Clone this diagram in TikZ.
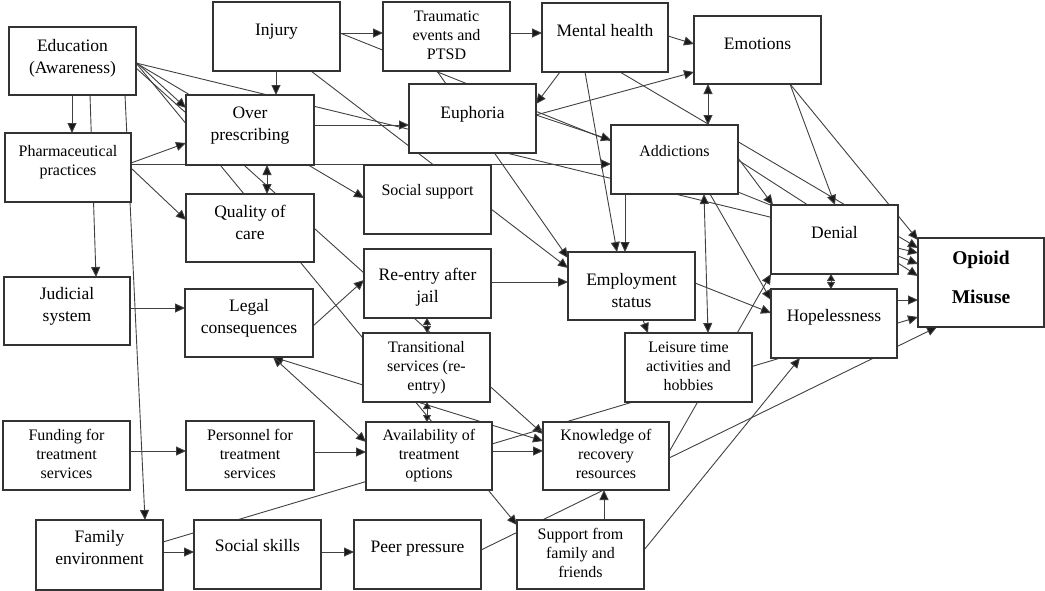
\documentclass[tikz,border=0pt]{standalone}
\usepackage{fontspec}
\setmainfont{Liberation Serif}
\usetikzlibrary{arrows.meta,calc}
\pgfdeclarelayer{bg}
\pgfsetlayers{bg,main}
\newcommand\BT[2]{\raisebox{#1}[\height][\depth]{\fontsize{17.5}{22}\selectfont\begin{tabular}{@{}c@{}}#2\end{tabular}}}
\newcommand\ST[2]{\raisebox{#1}[\height][\depth]{\fontsize{16}{19}\selectfont\begin{tabular}{@{}c@{}}#2\end{tabular}}}
\newcommand\OT[1]{\raisebox{6pt}[\height][\depth]{\fontsize{19.5}{39}\selectfont\bfseries\begin{tabular}{@{}c@{}}#1\end{tabular}}}
\tikzset{
  box/.style={draw=black!80, fill=white, line width=1.2pt, inner sep=0pt, outer sep=0pt, text=black},
  con/.style={draw=black!75, line width=0.9pt},
  tip/.style={Triangle[length=10pt,width=9pt,fill=black!90]},
  stip/.style={Triangle[length=7pt,width=8pt,fill=black!90]},
  arr/.style={con, -{Triangle[length=10pt,width=9pt,fill=black!90]}},
  dbl/.style={con, {Triangle[length=10pt,width=9pt,fill=black!90]}-{Triangle[length=10pt,width=9pt,fill=black!90]}},
  sdbl/.style={con, {Triangle[length=7pt,width=8pt,fill=black!90]}-{Triangle[length=7pt,width=8pt,fill=black!90]}},
}
\begin{document}
\begin{tikzpicture}[x=1pt,y=-1pt]
\useasboundingbox (0,0) rectangle (1045,590);
% boxes
\node[box, minimum width=127pt, minimum height=68pt] (edu) at (72.5,61) {\BT{3pt}{Education\\(Awareness)}};
\node[box, minimum width=127pt, minimum height=69pt] (inj) at (276.5,36.5) {\BT{5pt}{Injury}};
\node[box, minimum width=127pt, minimum height=69pt] (trau) at (446.5,36.5) {\ST{0pt}{Traumatic\\events and\\PTSD}};
\node[box, minimum width=126pt, minimum height=69pt] (ment) at (605,37.5) {\BT{5pt}{Mental health}};
\node[box, minimum width=127pt, minimum height=68pt] (emo) at (757.5,50) {\BT{5pt}{Emotions}};
\node[box, minimum width=126pt, minimum height=69pt] (pharm) at (68,167.5) {\ST{5pt}{Pharmaceutical\\practices}};
\node[box, minimum width=128pt, minimum height=70pt] (over) at (250,130) {\BT{5pt}{Over\\prescribing}};
\node[box, minimum width=127pt, minimum height=69pt] (euph) at (472.5,118.5) {\BT{4pt}{Euphoria}};
\node[box, minimum width=127pt, minimum height=69pt] (addi) at (674.5,159.5) {\ST{7pt}{Addictions}};
\node[box, minimum width=127pt, minimum height=69pt] (soc) at (427.5,199.5) {\ST{8pt}{Social support}};
\node[box, minimum width=128pt, minimum height=68pt] (qual) at (250,228) {\BT{4pt}{Quality of\\care}};
\node[box, minimum width=127pt, minimum height=69pt] (deni) at (834.5,239.5) {\BT{5pt}{Denial}};
\node[box, minimum width=126pt, minimum height=89pt] (opi) at (981,282.5) {\OT{Opioid\\Misuse}};
\node[box, minimum width=126pt, minimum height=69pt] (hope) at (834,323.5) {\BT{6pt}{Hopelessness}};
\node[box, minimum width=126pt, minimum height=68pt] (jud) at (67,311) {\BT{5pt}{Judicial\\system}};
\node[box, minimum width=128pt, minimum height=68pt] (legal) at (249,323) {\BT{5pt}{Legal\\consequences}};
\node[box, minimum width=127pt, minimum height=69pt] (reen) at (427.5,283.5) {\BT{-4pt}{Re-entry after\\jail}};
\node[box, minimum width=127pt, minimum height=68pt] (empl) at (631.5,286) {\BT{-6pt}{Employment\\status}};
\node[box, minimum width=127pt, minimum height=69pt] (trans) at (426.5,367.5) {\ST{0pt}{Transitional\\services (re-\\entry)}};
\node[box, minimum width=127pt, minimum height=69pt] (leis) at (688.5,367.5) {\ST{0pt}{Leisure time\\activities and\\hobbies}};
\node[box, minimum width=127pt, minimum height=69pt] (fund) at (66.5,455.5) {\ST{0pt}{Funding for\\treatment\\services}};
\node[box, minimum width=128pt, minimum height=69pt] (pers) at (250,455.5) {\ST{0pt}{Personnel for\\treatment\\services}};
\node[box, minimum width=126pt, minimum height=68pt] (avail) at (429,456) {\ST{0pt}{Availability of\\treatment\\options}};
\node[box, minimum width=126pt, minimum height=68pt] (know) at (606,456) {\ST{0pt}{Knowledge of\\recovery\\resources}};
\node[box, minimum width=127pt, minimum height=70pt] (fam) at (99.5,555) {\BT{6pt}{Family\\environment}};
\node[box, minimum width=127pt, minimum height=69pt] (sskill) at (257.5,554.5) {\BT{7pt}{Social skills}};
\node[box, minimum width=127pt, minimum height=69pt] (peer) at (417.5,554.5) {\BT{6pt}{Peer pressure}};
\node[box, minimum width=127pt, minimum height=69pt] (supp) at (580.5,554.5) {\ST{0pt}{Support from\\family and\\friends}};
% connectors
\begin{pgfonlayer}{bg}
\draw[arr] ($(edu.north west)+(63,68)$) -- ($(pharm.north west)+(67,0)$);
\draw[arr] ($(edu.north west)+(81,68)$) -- ($(jud.north west)+(92,0)$);
\draw[arr] ($(edu.north west)+(116,68)$) -- ($(fam.north west)+(109,0)$);
\draw[arr] ($(edu.north west)+(127,35)$) -- ($(over.north west)+(0,13)$);
\draw[arr] ($(edu.north west)+(127,36)$) -- ($(opi.north west)+(0,15)$);
\draw[arr] ($(edu.north west)+(127,36)$) -- ($(soc.north west)+(0,33)$);
\draw[arr] ($(edu.north west)+(127,41)$) -- ($(know.north west)+(0,12)$);
\draw[arr] ($(edu.north west)+(127,36)$) -- ($(supp.north west)+(0,5)$);
\draw[arr] ($(pharm.north west)+(126,30)$) -- ($(over.north west)+(0,48)$);
\draw[arr] ($(pharm.north west)+(126,31)$) -- ($(addi.north west)+(0,39)$);
\draw[arr] ($(pharm.north west)+(126,35)$) -- ($(qual.north west)+(0,26)$);
\draw[arr] ($(inj.north west)+(63,69)$) -- ($(over.north west)+(90,0)$);
\draw[arr] ($(inj.north west)+(127,31)$) -- ($(trau.north west)+(0,31)$);
\draw[arr] ($(inj.north west)+(127,31)$) -- ($(opi.north west)+(0,26)$);
\draw[arr] ($(inj.north west)+(98,69)$) -- ($(empl.north west)+(0,16)$);
\draw[arr] ($(trau.north west)+(127,31)$) -- ($(ment.north west)+(0,30)$);
\draw[arr] ($(trau.north west)+(54,69)$) -- ($(empl.north west)+(0,6)$);
\draw[arr] ($(ment.north west)+(126,33)$) -- ($(emo.north west)+(0,28)$);
\draw[arr] ($(euph.north west)+(127,31)$) -- ($(emo.north west)+(0,56)$);
\draw[arr] ($(ment.north west)+(18,69)$) -- ($(euph.north west)+(127,20)$);
\draw[arr] ($(euph.north west)+(127,31)$) -- ($(addi.north west)+(0,15)$);
\draw[arr] ($(ment.north west)+(43,69)$) -- ($(empl.north west)+(49,0)$);
\draw[arr] ($(ment.north west)+(78,69)$) -- ($(opi.north west)+(0,10)$);
\draw[dbl] ($(emo.north west)+(14,68)$) -- ($(addi.north west)+(97,0)$);
\draw[arr] ($(emo.north west)+(96,68)$) -- ($(deni.north west)+(64,0)$);
\draw[arr] ($(emo.north west)+(96,68)$) -- ($(opi.north west)+(0,2)$);
\draw[arr] ($(over.north west)+(128,30)$) -- ($(euph.north west)+(0,41)$);
\draw[dbl] ($(over.north west)+(81,70)$) -- ($(qual.north west)+(81,0)$);
\draw[arr] ($(addi.north west)+(14,69)$) -- ($(empl.north west)+(57,0)$);
\draw[dbl] ($(addi.north west)+(93,69)$) -- ($(leis.north west)+(83,0)$);
\draw[arr] ($(addi.north west)+(127,33)$) -- ($(deni.north west)+(2,0)$);
\draw[arr] ($(addi.north west)+(99,69)$) -- ($(hope.north west)+(0,11)$);
\draw[arr] ($(addi.north west)+(127,35)$) -- ($(opi.north west)+(0,38)$);
\draw[arr] ($(empl.north west)+(127,31)$) -- ($(hope.north west)+(0,24)$);
\draw[arr] ($(empl.north west)+(75,68)$) -- ($(leis.north west)+(23,0)$);
\draw[sdbl] ($(deni.north west)+(60,69)$) -- ($(hope.north west)+(60,0)$);
\draw[arr] ($(hope.north west)+(126,11)$) -- ($(opi.north west)+(0,62)$);
\draw[arr] ($(know.north west)+(126,30)$) -- ($(deni.north west)+(0,69)$);
\draw[arr] ($(supp.north west)+(127,30)$) -- ($(hope.north west)+(29,69)$);
\draw[arr] ($(supp.north west)+(87,0)$) -- ($(know.north west)+(61,68)$);
\draw[arr] ($(peer.north west)+(127,30)$) -- ($(opi.north west)+(19,89)$);
\draw[arr] ($(fam.north west)+(127,22)$) -- ($(opi.north west)+(0,79)$);
\draw[arr] ($(fam.north west)+(127,32)$) -- ($(sskill.north west)+(0,32)$);
\draw[arr] ($(sskill.north west)+(127,32)$) -- ($(peer.north west)+(0,32)$);
\draw[arr] ($(fund.north west)+(127,30)$) -- ($(pers.north west)+(0,30)$);
\draw[arr] ($(pers.north west)+(128,31)$) -- ($(avail.north west)+(0,30)$);
\draw[arr] ($(avail.north west)+(126,29)$) -- ($(know.north west)+(0,29)$);
\draw[dbl] ($(legal.north west)+(88,68)$) -- ($(avail.north west)+(0,20)$);
\draw[dbl] ($(legal.north west)+(88,68)$) -- ($(know.north west)+(0,19)$);
\draw[arr] ($(legal.north west)+(128,37)$) -- ($(reen.north west)+(0,31)$);
\draw[arr] ($(jud.north west)+(126,31)$) -- ($(legal.north west)+(0,19)$);
\draw[arr] ($(reen.north west)+(127,33)$) -- ($(empl.north west)+(0,30)$);
\draw[sdbl] ($(reen.north west)+(63,69)$) -- ($(trans.north west)+(64,0)$);
\draw[sdbl] ($(trans.north west)+(64,69)$) -- ($(avail.north west)+(61,0)$);
\end{pgfonlayer}
\end{tikzpicture}
\end{document}
